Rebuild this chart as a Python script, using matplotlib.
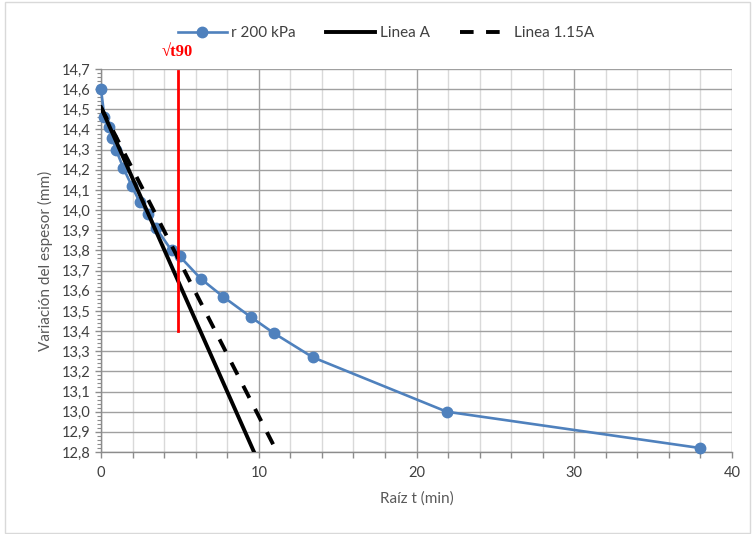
import matplotlib
matplotlib.use("Agg")
import matplotlib.pyplot as plt
from matplotlib.ticker import MultipleLocator, FuncFormatter
from matplotlib.patches import Rectangle

# Data
raiz_t = [0, 0.22, 0.5, 0.7, 0.95, 1.41, 1.95, 2.45, 3.0, 3.5, 4.47, 5.0,
          6.32, 7.75, 9.49, 10.95, 13.42, 21.91, 37.95]
espesor = [14.60, 14.46, 14.41, 14.36, 14.30, 14.21, 14.12, 14.04, 13.98, 13.91,
           13.80, 13.77, 13.66, 13.57, 13.47, 13.39, 13.27, 13.00, 12.82]

lineaA_x = [0, 9.70]
lineaA_y = [14.51, 12.80]
linea115_x = [0, 11.16]
linea115_y = [14.51, 12.80]

t90_x = [4.86, 4.86]
t90_y = [14.69, 13.40]

x_ticks = [0, 10, 20, 30, 40]
y_ticks = [12.8, 12.9, 13.0, 13.1, 13.2, 13.3, 13.4, 13.5, 13.6, 13.7,
           13.8, 13.9, 14.0, 14.1, 14.2, 14.3, 14.4, 14.5, 14.6, 14.7]

plt.rcParams['font.family'] = ['Lato', 'DejaVu Sans']

fig = plt.figure(figsize=(7.53, 5.34), dpi=100)
ax = fig.add_axes([101/753, 1-452/534, (732-101)/753, (452-69)/534])

blue = '#4F81BD'
ax.plot(raiz_t, espesor, color=blue, lw=1.9, marker='o', ms=7.5,
        label='r 200 kPa', zorder=4, clip_on=False)
ax.plot(lineaA_x, lineaA_y, color='black', lw=2.8, label='Linea A', zorder=5)
ax.plot(linea115_x, linea115_y, color='black', lw=2.8, ls=(0, (3.5, 3.2)),
        label='Linea 1.15A', zorder=5)
ax.plot(t90_x, t90_y, color='#FF0000', lw=2.0, zorder=6)
ax.text(t90_x[0], 14.745, '√t90', color='#FF0000', fontsize=12,
        fontweight='bold', family=['Liberation Serif', 'DejaVu Serif'],
        ha='center', va='bottom')

ax.set_xlim(0, 40)
ax.set_ylim(12.8, 14.7)
ax.set_xticks(x_ticks)
ax.set_yticks(y_ticks)
ax.xaxis.set_minor_locator(MultipleLocator(2))
ax.yaxis.set_minor_locator(MultipleLocator(0.02))
ax.yaxis.set_major_formatter(FuncFormatter(lambda v, p: f"{v:.1f}".replace('.', ',')))

ax.grid(which='major', axis='both', color='#A0A0A0', lw=1.0, zorder=0)
ax.grid(which='minor', axis='x', color='#D9D9D9', lw=1.0, zorder=0)
ax.set_axisbelow(True)

for s in ['top', 'right']:
    ax.spines[s].set_visible(False)
for s in ['left', 'bottom']:
    ax.spines[s].set_color('#8C8C8C')
    ax.spines[s].set_linewidth(1.0)

ax.tick_params(axis='both', which='major', labelsize=10.5, colors='#404040',
               length=4, width=1.0, direction='out')
ax.tick_params(axis='both', which='major', color='#8C8C8C')
ax.tick_params(axis='x', which='minor', length=4, width=1.0, color='#8C8C8C')
ax.tick_params(axis='y', which='minor', length=3, width=0.8, color='#8C8C8C')
ax.tick_params(axis='x', pad=6)

ax.set_xlabel('Raíz t (min)', fontsize=11, color='#595959', labelpad=8)
ax.set_ylabel('Variación del espesor (mm)', fontsize=11, color='#595959', labelpad=6)

leg = fig.legend(loc='center', bbox_to_anchor=(386/753, 1-33/534), ncol=3,
                 frameon=False, fontsize=11, handlelength=3.2,
                 columnspacing=2.0, handletextpad=0.3)
for t in leg.get_texts():
    t.set_color('#404040')

fig.patches.append(Rectangle((5/753, 0.002), 0.99, 0.995, transform=fig.transFigure,
                             fill=False, edgecolor='#D9D9D9', lw=1.0))

fig.savefig('out.png', dpi=100)
